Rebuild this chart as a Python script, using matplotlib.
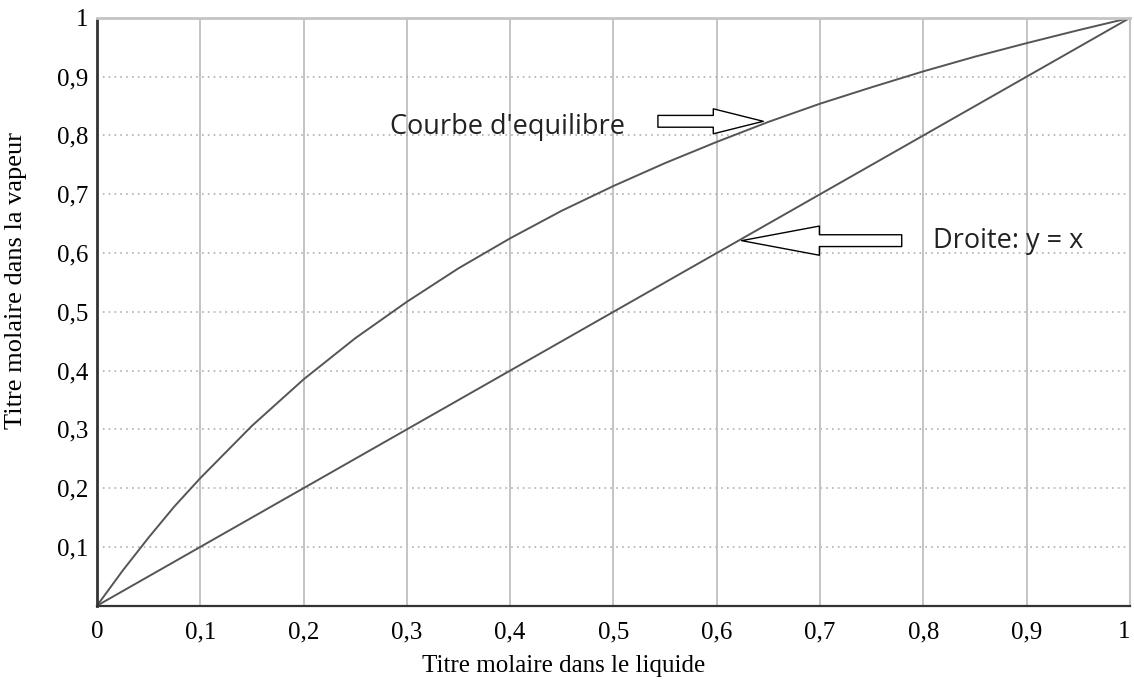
import matplotlib
matplotlib.use("Agg")
import matplotlib.pyplot as plt
from matplotlib.patches import FancyArrowPatch

# titre molaire du liquide / de la vapeur
x_liq = [0.0, 0.025, 0.05, 0.075, 0.1, 0.15, 0.2, 0.25, 0.3, 0.35, 0.4, 0.45, 0.5,
         0.55, 0.6, 0.65, 0.7, 0.75, 0.8, 0.85, 0.9, 0.95, 1.0]
y_vap = [0.0, 0.060, 0.116, 0.169, 0.217, 0.306, 0.385, 0.455, 0.517, 0.574, 0.625,
         0.672, 0.714, 0.753, 0.789, 0.823, 0.854, 0.882, 0.909, 0.934, 0.957, 0.979, 1.0]
diag = [0.0, 1.0]

ticks = [0.1, 0.2, 0.3, 0.4, 0.5, 0.6, 0.7, 0.8, 0.9, 1.0]
tick_labels = ["0,1", "0,2", "0,3", "0,4", "0,5", "0,6", "0,7", "0,8", "0,9", "1"]

serif = ["Liberation Serif", "DejaVu Serif"]

fig = plt.figure(figsize=(11.34, 6.86), dpi=100)
ax = fig.add_axes([0.0855, 0.117, 0.911, 0.857])

ax.set_xlim(0, 1)
ax.set_ylim(0, 1)

# grille : verticales pleines, horizontales en pointillé
for t in ticks[:-1]:
    ax.axvline(t, color="#c4c4c4", lw=1.4, zorder=0)
    ax.axhline(t, color="#b0b0b0", lw=1.2, ls=(0, (1, 2.5)), zorder=0)

ax.plot(x_liq, y_vap, color="#555555", lw=1.4)
ax.plot(diag, diag, color="#555555", lw=1.4)

ax.set_xticks([0] + ticks)
ax.set_xticklabels(["0"] + tick_labels)
ax.set_yticks(ticks)
ax.set_yticklabels(tick_labels)
ax.tick_params(length=0)
ax.tick_params(axis="x", pad=11)
ax.tick_params(axis="y", pad=6)
for lab in ax.get_xticklabels() + ax.get_yticklabels():
    lab.set_family(serif)
    lab.set_fontsize(18)
ax.get_xticklabels()[-1].set_ha("right")  # le "1" colle au bord droit

ax.spines["left"].set_color("#333333")
ax.spines["left"].set_linestyle((0, (1, 1)))
ax.spines["left"].set_linewidth(2)
ax.spines["bottom"].set_color("#333333")
ax.spines["bottom"].set_linewidth(1.6)
ax.spines["top"].set_color("#c4c4c4")
ax.spines["top"].set_linewidth(2)
ax.spines["right"].set_color("#c4c4c4")
ax.spines["right"].set_linewidth(1.5)

ax.set_xlabel("Titre molaire dans le liquide", family=serif, fontsize=18)
ax.set_ylabel("Titre molaire dans la vapeur", family=serif, fontsize=19)
ax.xaxis.set_label_coords(0.452, -0.083)
ax.yaxis.set_label_coords(-0.068, 0.554)

# flèches creuses
a1 = FancyArrowPatch((0.543, 0.824), (0.645, 0.824), transform=ax.transData,
                     arrowstyle="simple,head_length=36,head_width=18,tail_width=8.5",
                     mutation_scale=1, fc="white", ec="black", lw=1.0,
                     shrinkA=0, shrinkB=0, zorder=5)
a2 = FancyArrowPatch((0.779, 0.621), (0.624, 0.621), transform=ax.transData,
                     arrowstyle="simple,head_length=56,head_width=21,tail_width=8.5",
                     mutation_scale=1, fc="white", ec="black", lw=1.0,
                     shrinkA=0, shrinkB=0, zorder=5)
ax.add_patch(a1)
ax.add_patch(a2)

ax.text(0.284, 0.815, "Courbe d'equilibre", family="Open Sans", fontsize=19.5,
        va="center", ha="left", color="#222222")
ax.text(0.809, 0.621, "Droite: y = x", family="Open Sans", fontsize=19.5,
        va="center", ha="left", color="#222222")

fig.savefig("out.png", dpi=100)
